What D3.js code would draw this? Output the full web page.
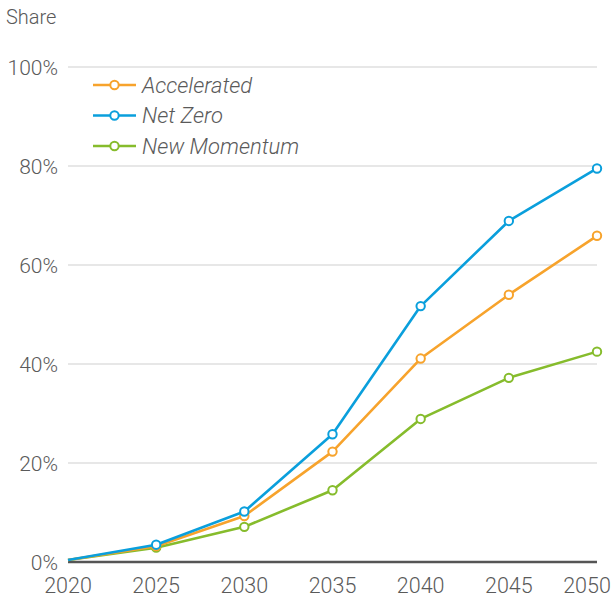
<!DOCTYPE html>
<html>
<head>
<meta charset="utf-8">
<script src="https://cdn.jsdelivr.net/npm/d3@7"></script>
<style>
  body { margin: 0; background: #fff; }
  text { font-family: Roboto, "Liberation Sans", Arial, sans-serif; font-weight: 300; fill: #5a5a5a; }
</style>
</head>
<body>
<div id="chart"></div>
<script>
// data
var years = [2020, 2025, 2030, 2035, 2040, 2045, 2050];
var accelerated = [0.4, 3.2, 9.3, 22.3, 41.1, 54.0, 65.9];
var netZero = [0.4, 3.5, 10.2, 25.8, 51.7, 68.9, 79.5];
var newMomentum = [0.4, 2.9, 7.1, 14.5, 28.9, 37.2, 42.5];
var yTicks = [0, 20, 40, 60, 80, 100];

var seriesNames = ["Accelerated", "Net Zero", "New Momentum"];
var seriesColors = ["#f7a32c", "#0a9fdc", "#86bc2c"];
var seriesValues = [accelerated, netZero, newMomentum];

var width = 614, height = 597;
var margin = { top: 67, right: 17, bottom: 35, left: 68 };

var svg = d3.select("#chart")
    .append("svg")
    .attr("width", width)
    .attr("height", height);

var x = d3.scaleLinear()
    .domain([2020, 2050])
    .range([margin.left, width - margin.right]);

var y = d3.scaleLinear()
    .domain([0, 100])
    .range([height - margin.bottom, margin.top]);

// gridlines
svg.append("g")
    .selectAll("line")
    .data(yTicks.filter(function (d) { return d > 0; }))
    .enter()
    .append("line")
    .attr("x1", x(2020))
    .attr("x2", x(2050))
    .attr("y1", function (d) { return y(d); })
    .attr("y2", function (d) { return y(d); })
    .attr("stroke", "#cfcfcf")
    .attr("stroke-width", 1);

// y labels
svg.append("g")
    .selectAll("text")
    .data(yTicks)
    .enter()
    .append("text")
    .attr("x", x(2020) - 10)
    .attr("y", function (d) { return y(d); })
    .attr("dy", "0.36em")
    .attr("text-anchor", "end")
    .style("font-size", "21px")
    .text(function (d) { return d + "%"; });

// axis title
svg.append("text")
    .attr("x", 6)
    .attr("y", 24)
    .style("font-size", "20px")
    .text("Share");

// x axis line
svg.append("line")
    .attr("x1", x(2020))
    .attr("x2", x(2050))
    .attr("y1", y(0))
    .attr("y2", y(0))
    .attr("stroke", "#555")
    .attr("stroke-width", 2.5);

// x labels
svg.append("g")
    .selectAll("text")
    .data(years)
    .enter()
    .append("text")
    .attr("x", function (d) { return x(d); })
    .attr("y", y(0) + 31)
    .attr("dx", function (d) { return d === 2050 ? -10 : 0; })
    .attr("text-anchor", "middle")
    .style("font-size", "21.5px")
    .text(function (d) { return d; });

var line = d3.line()
    .x(function (d) { return x(d.year); })
    .y(function (d) { return y(d.value); });

// draw New Momentum first, Net Zero on top
var drawOrder = [2, 0, 1];
drawOrder.forEach(function (i) {
    var pts = years.map(function (yr, j) { return { year: yr, value: seriesValues[i][j] }; });
    var g = svg.append("g");
    g.append("path")
        .datum(pts)
        .attr("fill", "none")
        .attr("stroke", seriesColors[i])
        .attr("stroke-width", 2.6)
        .attr("stroke-linejoin", "round")
        .attr("d", line);
    g.selectAll("circle")
        .data(pts.slice(1))
        .enter()
        .append("circle")
        .attr("cx", function (d) { return x(d.year); })
        .attr("cy", function (d) { return y(d.value); })
        .attr("r", 4.2)
        .attr("fill", "#fff")
        .attr("stroke", seriesColors[i])
        .attr("stroke-width", 2);
});

// legend
var legend = svg.append("g").attr("transform", "translate(93,85)");
seriesNames.forEach(function (name, i) {
    var row = legend.append("g").attr("transform", "translate(0," + (i * 30.5) + ")");
    row.append("line")
        .attr("x1", 0).attr("x2", 43)
        .attr("stroke", seriesColors[i])
        .attr("stroke-width", 2.6);
    row.append("circle")
        .attr("cx", 21.5)
        .attr("r", 4.2)
        .attr("fill", "#fff")
        .attr("stroke", seriesColors[i])
        .attr("stroke-width", 2);
    row.append("text")
        .attr("x", 49)
        .attr("dy", "0.36em")
        .style("font-size", "22px")
        .style("font-style", "italic")
        .text(name);
});
</script>
</body>
</html>
